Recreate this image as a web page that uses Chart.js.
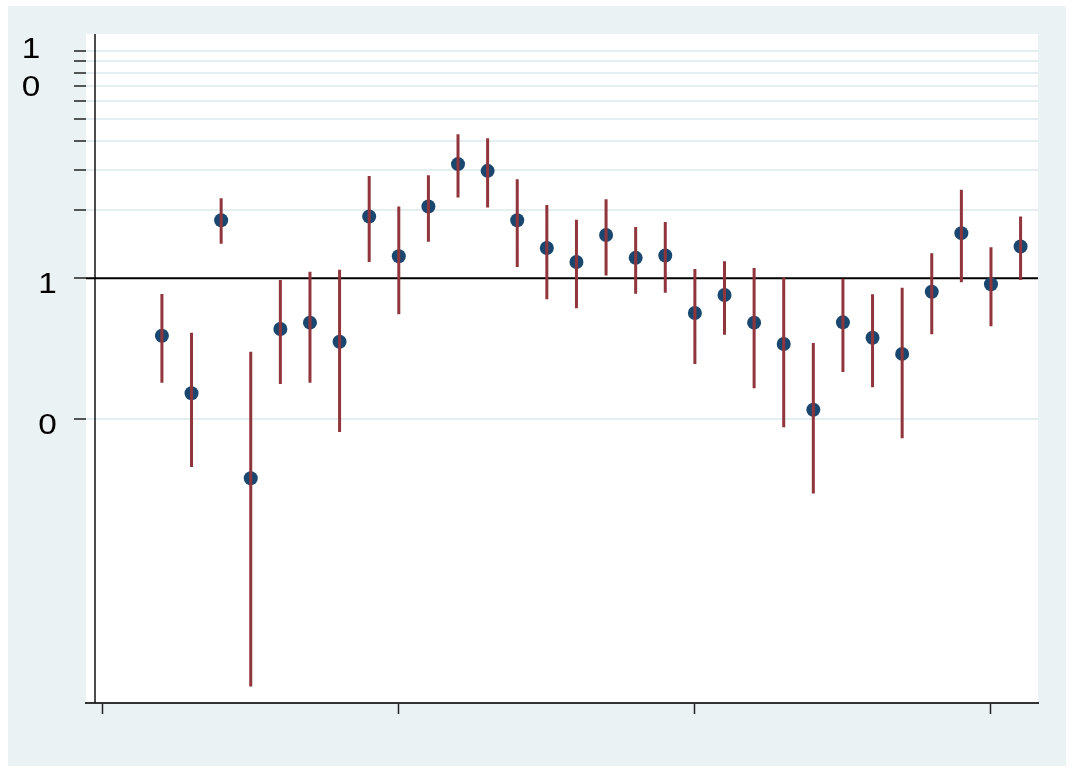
<!DOCTYPE html>
<html>
<head>
<meta charset="utf-8">
<script src="https://cdn.jsdelivr.net/npm/chart.js@4.4.1/dist/chart.umd.min.js"></script>
<style>
  html, body { margin: 0; padding: 0; background: #ffffff; }
  canvas { display: block; }
</style>
</head>
<body>
<canvas id="chart" width="1077" height="773"></canvas>
<script>
// Yearly estimates with their confidence bounds (log scale, reference at 1)
const years = [1982, 1983, 1984, 1985, 1986, 1987, 1988, 1989, 1990, 1991,
               1992, 1993, 1994, 1995, 1996, 1997, 1998, 1999, 2000, 2001,
               2002, 2003, 2004, 2005, 2006, 2007, 2008, 2009, 2010, 2011];
const estimate = [0.559, 0.312, 1.80, 0.132, 0.598, 0.638, 0.526, 1.87, 1.25, 2.07,
                  3.18, 2.97, 1.80, 1.36, 1.18, 1.55, 1.23, 1.26, 0.704, 0.844,
                  0.638, 0.514, 0.264, 0.640, 0.548, 0.465, 0.873, 1.58, 0.941, 1.38];
const lower = [0.347, 0.148, 1.42, 0.0160, 0.343, 0.347, 0.211, 1.18, 0.694, 1.45,
               2.27, 2.05, 1.12, 0.808, 0.738, 1.03, 0.855, 0.864, 0.420, 0.565,
               0.328, 0.221, 0.113, 0.387, 0.332, 0.198, 0.567, 0.960, 0.615, 0.983];
const upper = [0.853, 0.576, 2.25, 0.475, 0.983, 1.07, 1.09, 2.82, 2.07, 2.84,
               4.30, 4.13, 2.73, 2.10, 1.81, 2.23, 1.68, 1.77, 1.10, 1.19,
               1.11, 1.01, 0.519, 0.996, 0.850, 0.909, 1.29, 2.45, 1.37, 1.87];

const yTickValues = [0.24, 1, 2, 3, 4, 5, 6, 7, 8, 9, 10];
const yTickLabels = [[0.24, ['0']], [1, ['1']], [10, ['1', '0']]];
const xTickValues = [1980, 1990, 2000, 2010];
const referenceValue = 1;

const xRange = [1979.436, 2011.588];
const yRange = [0.01354, 11.88];

const NAVY = '#1a476f';
const MAROON = '#90353b';
const PANEL = '#eaf2f3';
const GRID = '#e5eef1';

// whiskers: one segment per year, separated by gaps
const whiskerPoints = years.flatMap((yr, i) => [
  { x: yr, y: lower[i] },
  { x: yr, y: upper[i] },
  { x: yr, y: null }
]);
const dotPoints = years.map((yr, i) => ({ x: yr, y: estimate[i] }));

const framePlugin = {
  id: 'frame',
  beforeDraw(chart) {
    const { ctx, chartArea: a } = chart;
    ctx.save();
    ctx.fillStyle = '#ffffff';
    ctx.fillRect(0, 0, chart.width, chart.height);
    ctx.fillStyle = PANEL;
    ctx.fillRect(8, 6, 1058, 760);
    ctx.fillStyle = '#ffffff';
    ctx.fillRect(a.left, a.top, a.right - a.left, a.bottom - a.top);
    ctx.restore();
  },
  beforeDatasetsDraw(chart) {
    const { ctx, chartArea: a, scales } = chart;
    ctx.save();
    // vertical axis line, set slightly inside the plot region
    ctx.strokeStyle = '#111111';
    ctx.lineWidth = 1.5;
    ctx.beginPath();
    ctx.moveTo(a.left + 9, a.top);
    ctx.lineTo(a.left + 9, a.bottom);
    ctx.stroke();
    // reference line
    const yRef = scales.y.getPixelForValue(referenceValue);
    ctx.strokeStyle = '#000000';
    ctx.lineWidth = 2;
    ctx.beginPath();
    ctx.moveTo(a.left, yRef);
    ctx.lineTo(a.right, yRef);
    ctx.stroke();
    ctx.restore();
  },
  afterDraw(chart) {
    const { ctx, scales } = chart;
    const stretch = 1.15;
    const put = (txt, cx, by) => {
      ctx.save();
      ctx.translate(cx, by);
      ctx.scale(stretch, 1);
      ctx.fillText(txt, 0, 0);
      ctx.restore();
    };
    ctx.save();
    ctx.fillStyle = '#000000';
    ctx.font = '29px "Liberation Sans", Arial, sans-serif';
    ctx.textAlign = 'center';
    ctx.textBaseline = 'alphabetic';
    yTickLabels.forEach(([value, lines]) => {
      const py = scales.y.getPixelForValue(value);
      if (lines.length === 1) {
        put(lines[0], 47.5, py + 14.5);
      } else {
        lines.forEach((txt, k) => put(txt, 31, py + 6.5 + k * 38));
      }
    });
    ctx.restore();
  }
};

new Chart(document.getElementById('chart'), {
  type: 'scatter',
  data: {
    datasets: [
      {
        type: 'line',
        data: whiskerPoints,
        borderColor: MAROON,
        borderWidth: 3,
        borderCapStyle: 'butt',
        pointRadius: 0,
        spanGaps: false,
        tension: 0,
        fill: false
      },
      {
        type: 'scatter',
        data: dotPoints,
        backgroundColor: NAVY,
        borderWidth: 0,
        pointRadius: 7,
        pointHoverRadius: 7
      }
    ]
  },
  options: {
    responsive: false,
    animation: false,
    events: [],
    layout: { padding: { left: 74, right: 39, top: 34, bottom: 58 } },
    plugins: {
      legend: { display: false },
      tooltip: { enabled: false }
    },
    scales: {
      x: {
        type: 'linear',
        min: xRange[0],
        max: xRange[1],
        afterBuildTicks(scale) { scale.ticks = xTickValues.map(v => ({ value: v })); },
        afterFit(scale) { scale.height = 12; },
        ticks: { display: false },
        grid: {
          drawOnChartArea: false,
          drawTicks: true,
          tickLength: 11,
          tickColor: '#222222',
          tickWidth: 1.5
        },
        border: { display: true, color: '#333333', width: 2 }
      },
      y: {
        type: 'logarithmic',
        min: yRange[0],
        max: yRange[1],
        afterBuildTicks(scale) { scale.ticks = yTickValues.map(v => ({ value: v })); },
        afterFit(scale) { scale.width = 12; },
        ticks: { display: false },
        grid: {
          color: GRID,
          lineWidth: 2,
          drawTicks: true,
          tickLength: 12,
          tickColor: '#222222',
          tickWidth: 1.5
        },
        border: { display: false }
      }
    }
  },
  plugins: [framePlugin]
});
</script>
</body>
</html>
